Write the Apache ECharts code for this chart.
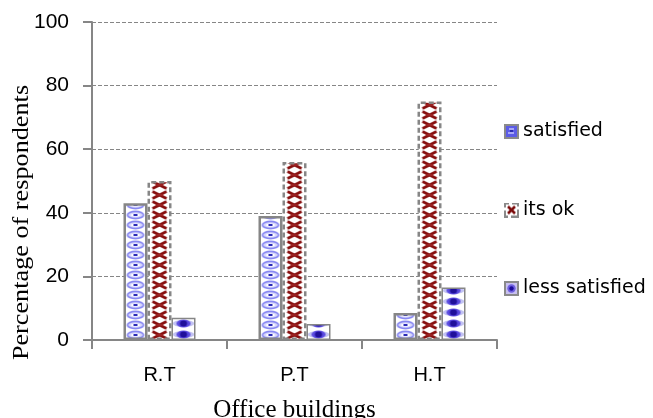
<!DOCTYPE html>
<html><head><meta charset="utf-8">
<script src="https://cdn.jsdelivr.net/npm/echarts@6/dist/echarts.min.js"></script>
<style>html,body{margin:0;padding:0;background:#fff}#c{width:653px;height:418px}</style>
</head><body><div id="c"></div>
<script>
const categories = ['R.T', 'P.T', 'H.T'];
const satisfied = [43, 39, 8.5];
const itsOk = [50, 56, 75];
const lessSatisfied = [7, 5, 16.5];
const yTicks = [0, 20, 40, 60, 80, 100];
const seriesNames = ['satisfied', 'its ok', 'less satisfied'];
const BW = 24;

function pattern(kind, ox, oy) {
  const c = document.createElement('canvas');
  const ctx = c.getContext('2d');
  c.width = 27;
  if (kind === 'sat') {
    c.height = 10;
    ctx.fillStyle = '#ffffff'; ctx.fillRect(0, 0, 27, 10);
    ctx.fillStyle = '#d6d6fb';
    ctx.beginPath(); ctx.ellipse(12, 5, 8, 3.6, 0, 0, Math.PI * 2); ctx.fill();
    ctx.strokeStyle = '#8888f2'; ctx.lineWidth = 1.8;
    ctx.beginPath(); ctx.ellipse(12, 5, 8, 3.6, 0, 0, Math.PI * 2); ctx.stroke();
    ctx.fillStyle = '#ffffff';
    ctx.beginPath(); ctx.ellipse(12, 5, 4.5, 1.6, 0, 0, Math.PI * 2); ctx.fill();
    ctx.fillStyle = '#2a2ab8';
    ctx.fillRect(10, 4, 4, 2);
  } else if (kind === 'ok') {
    c.height = 10;
    ctx.fillStyle = '#ffffff'; ctx.fillRect(0, 0, 27, 10);
    ctx.strokeStyle = '#870f0f'; ctx.lineWidth = 2.8;
    ctx.beginPath();
    ctx.moveTo(5, 1.5); ctx.lineTo(19, 8.5);
    ctx.moveTo(19, 1.5); ctx.lineTo(5, 8.5);
    ctx.stroke();
    ctx.fillStyle = '#9a2020';
    ctx.fillRect(8, 4, 8, 2);
  } else {
    c.height = 11;
    ctx.fillStyle = '#ffffff'; ctx.fillRect(0, 0, 27, 11);
    ctx.fillStyle = '#c2c2f2';
    ctx.beginPath(); ctx.ellipse(12, 5.5, 11, 3.5, 0, 0, Math.PI * 2); ctx.fill();
    ctx.fillStyle = '#5a4ae0';
    ctx.beginPath(); ctx.ellipse(12, 5.5, 7, 4, 0, 0, Math.PI * 2); ctx.fill();
    ctx.fillStyle = '#20109a';
    ctx.beginPath(); ctx.ellipse(12, 5.5, 3.5, 3, 0, 0, Math.PI * 2); ctx.fill();
  }
  return { image: c, repeat: 'repeat', x: ox || 0, y: oy || 0 };
}

function legendIcon(kind) {
  const c = document.createElement('canvas');
  c.width = 15; c.height = 15;
  const ctx = c.getContext('2d');
  ctx.fillStyle = '#ffffff'; ctx.fillRect(0, 0, 15, 15);
  if (kind === 'sat') {
    ctx.fillStyle = '#8a8a8a'; ctx.fillRect(0, 0, 15, 15);
    ctx.fillStyle = '#5c5ce6'; ctx.fillRect(2, 2, 11, 11);
    ctx.fillStyle = '#a8a8f6'; ctx.fillRect(5, 4, 5, 2); ctx.fillRect(4, 8, 6, 2);
    ctx.fillStyle = '#2a2ab0'; ctx.fillRect(6, 6, 3, 2);
  } else if (kind === 'ok') {
    ctx.fillStyle = '#8a8a8a';
    ctx.fillRect(0, 0, 5, 2); ctx.fillRect(8, 0, 7, 2);
    ctx.fillRect(0, 13, 4, 2); ctx.fillRect(7, 13, 8, 2);
    ctx.fillRect(0, 0, 2, 5); ctx.fillRect(0, 8, 2, 7);
    ctx.fillRect(13, 0, 2, 4); ctx.fillRect(13, 7, 2, 8);
    ctx.strokeStyle = '#7a0a0a'; ctx.lineWidth = 2.6;
    ctx.beginPath(); ctx.moveTo(4, 4); ctx.lineTo(11, 11); ctx.moveTo(11, 4); ctx.lineTo(4, 11); ctx.stroke();
  } else {
    ctx.fillStyle = '#8a8a8a'; ctx.fillRect(0, 0, 15, 15);
    ctx.fillStyle = '#c8c0f0'; ctx.fillRect(2, 2, 11, 11);
    ctx.fillStyle = '#7060e0';
    ctx.beginPath(); ctx.arc(7.5, 7.5, 4.2, 0, Math.PI * 2); ctx.fill();
    ctx.fillStyle = '#1c0c9a';
    ctx.beginPath(); ctx.arc(7.5, 7.5, 2.2, 0, Math.PI * 2); ctx.fill();
  }
  return 'image://' + c.toDataURL();
}

const chart = echarts.init(document.getElementById('c'), null, { renderer: 'canvas' });
const borderStyles = [
  { borderColor: '#868686', borderWidth: 2.5 },
  { borderColor: '#868686', borderWidth: 2.5, borderType: [5, 3] },
  { borderColor: '#868686', borderWidth: 1.5 }
];
const kinds = ['sat', 'ok', 'less'];
const datas = [satisfied, itsOk, lessSatisfied];

function buildSeries(offsets) {
  return datas.map((d, i) => ({
    name: seriesNames[i], type: 'bar', data: d, barWidth: BW, barGap: '0%',
    itemStyle: Object.assign({ color: pattern(kinds[i], offsets ? offsets[i][0] : 0, offsets ? offsets[i][1] : 0) }, borderStyles[i])
  }));
}

chart.setOption({
  animation: false,
  backgroundColor: '#ffffff',
  grid: { left: 92, right: 156, top: 22, bottom: 78, outerBoundsMode: 'none', containLabel: false },
  legend: {
    orient: 'vertical', left: 504, top: 122, itemGap: 59.5, padding: 0,
    itemWidth: 15, itemHeight: 15,
    textStyle: { fontFamily: 'DejaVu Sans', fontSize: 19, color: '#000', padding: [0, 0, 0, -1] },
    data: seriesNames.map((n, i) => ({ name: n, icon: legendIcon(kinds[i]) }))
  },
  graphic: [{
    type: 'text', rotation: Math.PI / 2,
    x: 22, y: 222.5, scaleX: 1.14,
    style: { text: 'Percentage of respondents', fontFamily: 'Liberation Serif', fontSize: 23,
      fill: '#000', align: 'center', verticalAlign: 'middle' }
  }],
  xAxis: {
    type: 'category', data: categories,
    name: 'Office buildings', nameLocation: 'middle', nameGap: 58,
    nameTextStyle: { fontFamily: 'Liberation Serif', fontSize: 25, color: '#000' },
    axisLine: { lineStyle: { color: '#868686', width: 2 } },
    axisTick: { show: true, length: 9, lineStyle: { color: '#868686', width: 2 } },
    axisLabel: { fontFamily: 'Liberation Sans', fontSize: 20, color: '#000', margin: 25 }
  },
  yAxis: {
    type: 'value', min: 0, max: 100, interval: 20,
    axisLine: { show: true, lineStyle: { color: '#868686', width: 2 } },
    axisTick: { show: true, length: 9, inside: false, lineStyle: { color: '#868686', width: 2 } },
    axisLabel: { fontFamily: 'Liberation Sans', fontSize: 21, color: '#000', margin: 23,
      formatter: v => yTicks.includes(v) ? String(v) : '' },
    splitLine: { lineStyle: { color: '#868686', type: [4, 2], width: 1 } }
  },
  series: buildSeries(null)
});

// align pattern tiles to each bar using the library's own scale
const c0 = chart.convertToPixel({ xAxisIndex: 0 }, 0);
const y0 = chart.convertToPixel({ yAxisIndex: 0 }, 0);
const offsets = datas.map((d, i) => [c0 - 1.5 * BW + i * BW, y0]);
chart.setOption({ series: buildSeries(offsets) });
</script></body></html>
